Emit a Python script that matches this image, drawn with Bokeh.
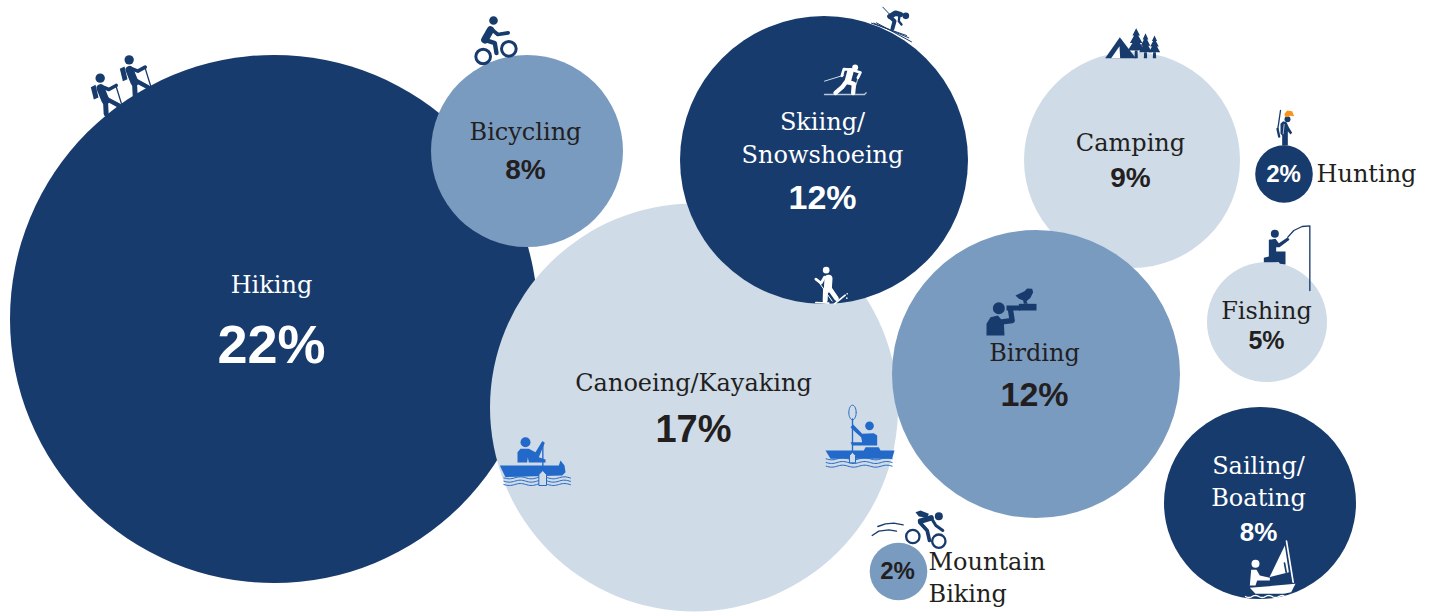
import numpy as np
from bokeh.plotting import figure
from bokeh.models import Range1d
from bokeh.core.properties import value
from bokeh.embed import file_html
from bokeh.resources import INLINE

# ---- chart data -------------------------------------------------------------
activities = ["Hiking", "Bicycling", "Canoeing/Kayaking", "Skiing/\nSnowshoeing", "Camping",
              "Birding", "Hunting", "Fishing", "Sailing/\nBoating", "Mountain\nBiking"]
# radius scale: the two "2%" bubbles are drawn slightly bigger than 2 in the source
bubble_size = [22, 8, 17, 12, 9, 12, 2.4, 5, 8, 2.4]
shares = ["22%", "8%", "17%", "12%", "9%", "12%", "2%", "5%", "8%", "2%"]

# ---- layout and style -------------------------------------------------------
PX_PER_UNIT = 12
centers_x = [273.5, 526.5, 693.5, 823.5, 1131.5, 1035.5, 1283.5, 1266.5, 1259.5, 898]
centers_y = [318.5, 150.5, 407, 159.5, 159.5, 373.5, 173.5, 321.5, 502.5, 571]
DARK, MID, LIGHT = "#173B6C", "#7A9BC0", "#CFDBE7"
INK, ICON_BLUE, ORANGE = "#231F20", "#2369C9", "#F7941D"
fills = [DARK, MID, LIGHT, DARK, LIGHT, MID, DARK, LIGHT, DARK, MID]
inks = ["white", INK, INK, "white", INK, INK, "white", INK, "white", INK]
SLAB = value("DejaVu Serif")
SANS = value("Liberation Sans")

p = figure(width=1429, height=613, x_range=Range1d(0, 1429), y_range=Range1d(613, 0),
           output_backend="svg", toolbar_location=None, min_border=0,
           background_fill_color="white", border_fill_color="white", outline_line_color=None)
p.axis.visible = False
p.grid.visible = False

for cx, cy, size, fill in zip(centers_x, centers_y, bubble_size, fills):
    p.circle(x=[cx], y=[cy], radius=size * PX_PER_UNIT, fill_color=fill, line_color=None)


# ---- pictograms: traced in zoomed (3x) local units --------------------------
class Icon:
    def __init__(self, ox, oy, dx=0, dy=0):
        self.ox, self.oy, self.dx, self.dy = ox, oy, dx, dy

    def _t(self, pts):
        a = np.array(pts, dtype=float)
        return (self.ox + (a[:, 0] + self.dx) / 3).tolist(), (self.oy + (a[:, 1] + self.dy) / 3).tolist()

    def poly(self, pts, color):
        xs, ys = self._t(pts)
        p.patch(xs, ys, fill_color=color, line_color=None)

    def disc(self, x, y, r, color):
        xs, ys = self._t([(x, y)])
        p.circle(x=xs, y=ys, radius=r / 3, fill_color=color, line_color=None)

    def ring(self, x, y, r, w, color):
        xs, ys = self._t([(x, y)])
        p.circle(x=xs, y=ys, radius=r / 3, fill_color=None, line_color=color, line_width=w / 3)

    def line(self, pts, w, color):
        xs, ys = self._t(pts)
        p.line(xs, ys, line_color=color, line_width=w / 3, line_cap="round", line_join="round")

    def wave(self, x0, x1, y, amp, period, w, color):
        t = np.linspace(x0, x1, 50)
        self.line(list(zip(t, y + amp * np.sin((t - x0) * 2 * np.pi / period))), w, color)

    def tree(self, cx, top, bot, hw, trunk_bot, color):
        h = bot - top
        self.poly([(cx, top), (cx + hw * .45, top + h * .33), (cx + hw * .25, top + h * .33),
                   (cx + hw * .75, top + h * .66), (cx + hw * .45, top + h * .66), (cx + hw, bot),
                   (cx - hw, bot), (cx - hw * .45, top + h * .66), (cx - hw * .75, top + h * .66),
                   (cx - hw * .25, top + h * .33), (cx - hw * .45, top + h * .33)], color)
        self.poly([(cx - 4, bot), (cx + 4, bot), (cx + 5, trunk_bot), (cx - 5, trunk_bot)], color)


# hikers
for shift in [(0, 0), (-87, 55)]:
    ic = Icon(60, 0, *shift)
    ic.disc(206, 178, 14, DARK)
    ic.poly([(178, 205), (192, 198), (201, 236), (187, 242)], DARK)
    ic.line([(207, 208), (222, 245)], 24, DARK)
    ic.line([(215, 205), (232, 212), (254, 200)], 11, DARK)
    ic.line([(222, 245), (224, 285)], 15, DARK)
    ic.line([(225, 240), (262, 260)], 13, DARK)
    ic.line([(253, 200), (270, 255)], 4, DARK)

# cyclist
ic = Icon(60, 0)
ic.disc(1299, 60, 13, DARK)
ic.line([(1290, 88), (1273, 118)], 22, DARK)
ic.line([(1292, 85), (1312, 102), (1343, 97)], 11, DARK)
ic.line([(1273, 118), (1303, 128), (1308, 158)], 13, DARK)
ic.ring(1268, 168, 22, 9, DARK)
ic.ring(1345, 145, 22, 9, DARK)

# downhill skier
ic = Icon(800, 0)
ic.disc(316, 46, 10, DARK)
ic.line([(268, 48), (285, 38), (300, 42)], 16, DARK)
ic.line([(270, 50), (282, 62), (276, 84)], 12, DARK)
ic.line([(297, 42), (295, 62), (303, 72)], 7, DARK)
ic.line([(247, 20), (268, 42)], 3, DARK)
ic.line([(213, 68), (318, 105)], 3, DARK)
ic.line([(220, 68), (325, 112)], 3, DARK)
ic.line([(228, 67), (333, 124)], 3, DARK)

# cross-country skier
ic.line([(72, 242), (130, 224)], 3, LIGHT)
ic.line([(175, 225), (158, 280)], 3, LIGHT)
ic.line([(72, 282), (192, 282), (197, 277)], 4, "#B9C7D8")
ic.disc(164, 201, 9, "white")
ic.line([(150, 212), (142, 242)], 19, "white")
ic.line([(143, 245), (160, 250), (158, 278)], 13, "white")
ic.line([(136, 245), (125, 260), (105, 277)], 13, "white")
ic.line([(148, 207), (130, 206), (124, 226)], 8, "white")
ic.line([(152, 208), (180, 216), (172, 232)], 8, "white")

# tent + trees
ic.poly([(914, 173), (958, 110), (1006, 173)], DARK)
ic.poly([(932, 173), (957, 137), (959, 173)], "white")
ic.tree(1007, 83, 150, 25, 173, DARK)
ic.tree(1035, 98, 155, 19, 173, DARK)
ic.tree(1062, 105, 155, 17, 173, DARK)

# hunter
ic = Icon(1230, 100)
ic.line([(150, 30), (142, 85)], 4, DARK)
ic.line([(141, 85), (146, 108)], 7, DARK)
ic.disc(171, 56, 9, DARK)
ic.poly([(158, 62), (168, 65), (175, 80), (185, 97), (180, 102), (172, 92), (172, 135), (155, 135),
         (155, 105), (150, 100), (150, 70)], DARK)
ic.line([(161, 72), (158, 100)], 2, "white")
ic.poly([(162, 40), (170, 30), (185, 32), (191, 47), (178, 46), (170, 50), (163, 48)], ORANGE)

# fisher
ic.disc(133, 400, 12, DARK)
ic.poly([(115, 418), (135, 415), (145, 428), (172, 410), (177, 418), (147, 440), (137, 440),
         (137, 453), (165, 453), (165, 492), (148, 490), (145, 485), (100, 485), (100, 472),
         (115, 468)], DARK)
ic.line([(172, 410), (190, 390), (215, 378), (238, 376), (238, 570)], 4, DARK)

# canoe
ic = Icon(490, 400)
ic.disc(105, 125, 15, ICON_BLUE)
ic.poly([(81, 155), (90, 145), (115, 145), (135, 155), (155, 122), (163, 127), (145, 170),
         (165, 177), (165, 186), (115, 186), (112, 170), (110, 186), (81, 186)], ICON_BLUE)
ic.poly([(28, 195), (205, 195), (210, 180), (222, 195), (225, 215), (215, 225), (45, 230)], ICON_BLUE)
for y in (232, 242, 252):
    ic.wave(40, 240, y, 3, 66, 3, ICON_BLUE)
ic.line([(157, 125), (157, 215)], 4, ICON_BLUE)
ic.poly([(145, 222), (157, 210), (168, 222), (168, 255), (145, 255)], LIGHT)
ic.line([(145, 222), (157, 210), (168, 222), (168, 255), (145, 255), (145, 222)], 3, ICON_BLUE)

# kayak
ic.disc(1137, 76, 13, ICON_BLUE)
ic.poly([(1115, 100), (1150, 98), (1160, 105), (1160, 135), (1085, 135), (1080, 125), (1115, 125),
         (1112, 110), (1095, 95), (1080, 80), (1088, 72), (1108, 92)], ICON_BLUE)
ic.poly([(1005, 150), (1120, 150), (1125, 140), (1165, 140), (1170, 150), (1212, 150), (1205, 175),
         (1020, 175)], ICON_BLUE)
for y in (175, 186, 197):
    ic.wave(1007, 1205, y, 3, 66, 3, ICON_BLUE)
ic.line([(1086, 55), (1086, 157)], 4, ICON_BLUE)
th = np.linspace(0, 2 * np.pi, 40)
ic.line(list(zip(1086 + 11 * np.cos(th), 36 + 22 * np.sin(th))), 3, ICON_BLUE)
ic.poly([(1077, 165), (1086, 155), (1095, 165), (1095, 187), (1077, 187)], LIGHT)
ic.line([(1077, 165), (1086, 155), (1095, 165), (1095, 187), (1077, 187), (1077, 165)], 3, ICON_BLUE)

# birder
ic = Icon(800, 260)
ic.disc(595, 143, 18, DARK)
ic.poly([(558, 225), (558, 190), (570, 170), (592, 165), (610, 185), (612, 225)], DARK)
ic.line([(600, 185), (635, 180), (630, 148)], 16, DARK)
ic.poly([(618, 135), (660, 135), (660, 150), (618, 150)], DARK)
ic.poly([(655, 130), (708, 130), (708, 150), (655, 150)], DARK)
ic.poly([(645, 105), (672, 92), (680, 84), (695, 85), (698, 95), (690, 112), (678, 122), (682, 130),
         (670, 130), (668, 120), (655, 115)], DARK)

# snowshoer
ic.line([(48, 55), (95, 122)], 3, "white")
ic.disc(77, 29, 10, "white")
ic.line([(84, 55), (82, 85)], 24, "white")
ic.line([(75, 88), (74, 120)], 15, "white")
ic.line([(90, 88), (108, 114)], 14, "white")
ic.line([(72, 50), (62, 68), (46, 56)], 8, "white")
ic.line([(46, 126), (85, 128)], 5, "white")
ic.line([(102, 130), (134, 104)], 5, "white")
ic.disc(140, 100, 2.5, "white")
ic.disc(139, 113, 2.5, "white")

# mountain biker
ic = Icon(860, 500)
ic.poly([(165, 35), (180, 30), (205, 40), (200, 52), (175, 48)], DARK)
ic.disc(235, 47, 12, DARK)
ic.line([(180, 62), (212, 52)], 16, DARK)
ic.line([(212, 52), (226, 75), (247, 90)], 9, DARK)
ic.line([(178, 66), (200, 90), (207, 120)], 11, DARK)
ic.ring(157, 108, 20, 7, DARK)
ic.ring(235, 122, 20, 7, DARK)
ic.line([(52, 78), (75, 70), (100, 68), (128, 73)], 4, DARK)
ic.line([(35, 105), (55, 92), (85, 88), (108, 92)], 4, DARK)

# sailor
ic = Icon(1220, 530)
ic.disc(105, 100, 12, "white")
ic.poly([(92, 118), (108, 118), (118, 135), (148, 142), (148, 150), (110, 150), (105, 165), (88, 165)], "white")
ic.poly([(193, 45), (147, 140), (205, 125)], "white")
ic.line([(198, 32), (218, 155)], 5, "white")
ic.line([(192, 98), (197, 125)], 5, DARK)
ic.poly([(88, 172), (225, 160), (212, 185), (190, 190), (105, 190)], "white")
ic.wave(75, 190, 198, 3, 40, 4, "white")

# ---- texts -------------------------------------------------------------------
name_x = [271, 525, 693, 822, 1130, 1034, 1316, 1266, 1258, 928]
name_y = [284, 131, 382, 121, 142, 352, 173, 310, 465, 561]
name_align = ["center"] * 6 + ["left", "center", "center", "left"]
share_x = [271, 525, 693, 822, 1130, 1034, 1283, 1266, 1258, 897]
share_y = [343, 169, 428, 196, 177, 393, 173, 339, 531, 570]
share_px = [54, 28, 38, 34, 28, 34, 24, 25, 26, 24]
LINE_STEP = 32

for i, name in enumerate(activities):
    for k, part in enumerate(name.split("\n")):
        p.text(x=[name_x[i]], y=[name_y[i] + k * (LINE_STEP + (1 if i == 3 else 0))], text=[part],
               text_font=SLAB, text_font_size="24px", text_color=inks[i] if i != 6 else INK,
               text_align=name_align[i], text_baseline="middle")
    share_ink = "white" if fills[i] == DARK else INK
    p.text(x=[share_x[i]], y=[share_y[i]], text=[shares[i]], text_font=SANS, text_font_style="bold",
           text_font_size=f"{share_px[i]}px", text_color=share_ink, text_align="center", text_baseline="middle")

open("out.html", "w").write(file_html(p, INLINE))
